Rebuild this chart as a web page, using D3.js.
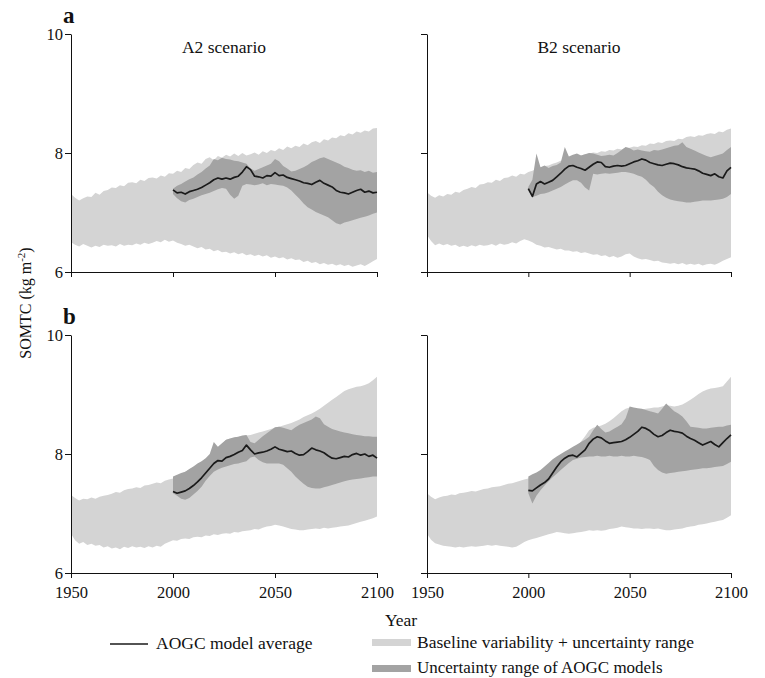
<!DOCTYPE html>
<meta charset="utf-8">
<style>
  body { margin: 0; background: #fff; }
  svg text { font-family: "Liberation Serif", "Times New Roman", serif; fill: #111; }
</style>
<script src="https://d3js.org/d3.v7.min.js"></script>
<div id="chart"></div>
<script>
// year grids (every 2 years)
var yearsAll = d3.range(1950, 2101, 2);   // 76 points, baseline band
var yearsProj = d3.range(2000, 2101, 2);  // 51 points, AOGC band + mean

// ---- a / A2 ----
var aA2LightUp = [7.31,7.25,7.20,7.24,7.27, 7.26,7.33,7.30,7.36,7.38, 7.42,7.41,7.46,7.44,7.50, 7.51,7.49,7.55,7.53,7.58,
  7.59,7.57,7.62,7.60,7.66, 7.65,7.70,7.68,7.75,7.73, 7.80,7.84,7.82,7.90,7.93, 7.88,7.95,7.92,7.97,7.94, 7.99,7.95,8.00,7.96,7.98,
  8.01,7.97,8.03,8.00,8.05, 8.03,8.08,8.05,8.11,8.08, 8.12,8.10,8.16,8.13,8.18, 8.20,8.17,8.23,8.21,8.26, 8.25,8.30,8.28,8.33,8.31,
  8.36,8.34,8.38,8.36,8.41, 8.42];
var aA2LightLo = [6.50,6.46,6.43,6.47,6.44, 6.41,6.44,6.42,6.46,6.44, 6.45,6.43,6.47,6.44,6.46, 6.45,6.48,6.46,6.49,6.47,
  6.49,6.52,6.50,6.54,6.51, 6.53,6.49,6.47,6.44,6.46, 6.43,6.40,6.42,6.38,6.39, 6.35,6.37,6.33,6.34,6.31, 6.33,6.30,6.32,6.28,6.30,
  6.27,6.29,6.26,6.28,6.24, 6.26,6.23,6.25,6.21,6.23, 6.20,6.21,6.17,6.19,6.15, 6.17,6.13,6.15,6.12,6.14, 6.11,6.13,6.10,6.12,6.09,
  6.11,6.13,6.10,6.14,6.18, 6.22];
var aA2DarkUp = [7.40,7.45,7.48,7.52,7.56, 7.59,7.64,7.68,7.74,7.79, 7.90,7.88,7.92,7.90,7.89, 7.87,7.86,7.84,7.82,7.74,
  7.70,7.73,7.76,7.79,7.82, 7.90,7.86,7.78,7.74,7.69, 7.70,7.73,7.76,7.80,7.85, 7.88,7.91,7.93,7.90,7.87, 7.84,7.81,7.77,7.75,7.72,
  7.70,7.71,7.68,7.70,7.67, 7.68];
var aA2DarkLo = [7.31,7.24,7.19,7.17,7.21, 7.23,7.26,7.29,7.31,7.33, 7.36,7.39,7.41,7.40,7.30, 7.23,7.28,7.45,7.48,7.47,
  7.46,7.47,7.49,7.46,7.48, 7.47,7.46,7.45,7.42,7.37, 7.30,7.23,7.15,7.09,7.05, 7.01,6.98,6.95,6.92,6.87, 6.82,6.80,6.83,6.85,6.87,
  6.89,6.91,6.93,6.95,6.98, 7.00];
var aA2Mean = [7.38,7.33,7.34,7.31,7.35, 7.37,7.39,7.42,7.46,7.50, 7.55,7.58,7.56,7.58,7.56, 7.59,7.61,7.68,7.77,7.72,
  7.61,7.60,7.58,7.62,7.61, 7.67,7.62,7.63,7.59,7.57, 7.55,7.53,7.50,7.49,7.47, 7.51,7.54,7.49,7.46,7.43, 7.37,7.34,7.33,7.31,7.34,
  7.37,7.39,7.34,7.36,7.33, 7.34];

// ---- a / B2 ----
var aB2LightUp = [7.34,7.28,7.25,7.29,7.27, 7.31,7.30,7.35,7.33,7.38, 7.40,7.43,7.41,7.47,7.48, 7.51,7.50,7.55,7.53,7.58,
  7.59,7.62,7.60,7.65,7.64, 7.68,7.70,7.73,7.75,7.78, 7.79,7.82,7.84,7.87,7.88, 7.91,7.92,7.95,7.96,7.98, 7.99,8.01,8.00,8.03,8.02,
  8.05,8.04,8.07,8.06,8.09, 8.09,8.11,8.10,8.13,8.12, 8.16,8.15,8.18,8.17,8.20, 8.21,8.20,8.24,8.23,8.27, 8.28,8.27,8.30,8.29,8.32,
  8.33,8.32,8.36,8.35,8.39, 8.41];
var aB2LightLo = [6.62,6.52,6.45,6.48,6.45, 6.47,6.44,6.46,6.42,6.44, 6.42,6.45,6.43,6.46,6.44, 6.45,6.47,6.44,6.48,6.46,
  6.47,6.50,6.48,6.52,6.55, 6.53,6.50,6.46,6.44,6.41, 6.42,6.40,6.38,6.39,6.36, 6.36,6.34,6.35,6.32,6.33, 6.31,6.29,6.30,6.27,6.28,
  6.25,6.27,6.24,6.26,6.30, 6.31,6.26,6.23,6.21,6.22, 6.20,6.18,6.19,6.16,6.15, 6.14,6.15,6.13,6.15,6.12, 6.14,6.12,6.14,6.11,6.13,
  6.14,6.12,6.15,6.19,6.22, 6.25];
var aB2DarkUp = [7.43,7.55,7.99,7.76,7.79, 7.75,7.78,7.80,7.84,8.10, 7.94,7.97,7.99,7.96,7.98, 8.00,7.99,7.97,7.95,7.96,
  7.97,7.96,8.00,8.05,8.10, 8.08,8.04,8.06,8.04,8.03, 8.02,8.05,8.04,8.06,8.08, 8.10,8.12,8.13,8.18,8.10, 8.07,8.04,8.01,7.98,7.95,
  7.93,7.95,7.97,7.99,8.05, 8.10];
var aB2DarkLo = [7.37,7.26,7.28,7.31,7.32, 7.34,7.37,7.40,7.43,7.47, 7.51,7.54,7.54,7.50,7.42, 7.37,7.65,7.64,7.65,7.66,
  7.65,7.66,7.67,7.68,7.68, 7.67,7.65,7.62,7.60,7.55, 7.48,7.43,7.35,7.29,7.25, 7.22,7.20,7.19,7.18,7.17, 7.17,7.18,7.19,7.20,7.20,
  7.20,7.21,7.22,7.23,7.26, 7.31];
var aB2Mean = [7.40,7.27,7.48,7.52,7.48, 7.51,7.54,7.60,7.66,7.73, 7.78,7.79,7.76,7.74,7.71, 7.76,7.81,7.85,7.84,7.77,
  7.76,7.78,7.79,7.78,7.79, 7.82,7.85,7.87,7.90,7.88, 7.84,7.82,7.80,7.79,7.81, 7.83,7.82,7.80,7.77,7.75, 7.74,7.73,7.70,7.66,7.64,
  7.62,7.65,7.60,7.58,7.70, 7.76];

// ---- b / A2 ----
var bA2LightUp = [7.31,7.26,7.22,7.25,7.24, 7.27,7.25,7.28,7.30,7.31, 7.33,7.36,7.35,7.39,7.41, 7.42,7.44,7.43,7.47,7.48,
  7.50,7.52,7.51,7.55,7.57, 7.59,7.62,7.66,7.70,7.74, 7.78,7.82,7.87,7.92,7.97, 8.03,8.10,8.17,8.24,8.26, 8.27,8.29,8.30,8.31,8.32,
  8.34,8.36,8.38,8.40,8.42, 8.44,8.46,8.48,8.50,8.52, 8.55,8.58,8.62,8.65,8.68, 8.72,8.76,8.81,8.86,8.91, 8.96,9.01,9.06,9.09,9.11,
  9.13,9.14,9.16,9.19,9.24, 9.30];
var bA2LightLo = [6.66,6.55,6.49,6.52,6.47, 6.49,6.46,6.47,6.43,6.45, 6.41,6.43,6.40,6.44,6.42, 6.45,6.43,6.44,6.42,6.45,
  6.43,6.46,6.44,6.49,6.52, 6.55,6.54,6.57,6.58,6.57, 6.60,6.61,6.60,6.63,6.62, 6.65,6.64,6.66,6.67,6.66, 6.69,6.68,6.70,6.71,6.72,
  6.74,6.73,6.76,6.78,6.79, 6.81,6.80,6.78,6.76,6.74, 6.73,6.72,6.72,6.73,6.74, 6.75,6.74,6.76,6.75,6.76, 6.77,6.78,6.79,6.80,6.82,
  6.84,6.86,6.88,6.90,6.92, 6.95];
var bA2DarkUp = [7.62,7.65,7.68,7.70,7.75, 7.79,7.84,7.88,7.93,8.00, 8.20,8.12,8.18,8.24,8.26, 8.28,8.29,8.31,8.32,8.20,
  8.18,8.24,8.30,8.35,8.40, 8.45,8.46,8.44,8.42,8.40, 8.45,8.49,8.52,8.55,8.58, 8.63,8.60,8.50,8.46,8.42, 8.40,8.38,8.36,8.35,8.33,
  8.32,8.31,8.30,8.30,8.29, 8.29];
var bA2DarkLo = [7.34,7.30,7.25,7.23,7.26, 7.32,7.38,7.45,7.55,7.63, 7.70,7.74,7.77,7.79,7.81, 7.83,7.84,7.86,7.88,7.94,
  7.96,7.90,7.86,7.84,7.84, 7.84,7.84,7.82,7.76,7.70, 7.62,7.56,7.50,7.45,7.43, 7.42,7.42,7.44,7.46,7.48, 7.50,7.52,7.54,7.56,7.57,
  7.58,7.59,7.60,7.61,7.62, 7.62];
var bA2Mean = [7.37,7.34,7.36,7.38,7.42, 7.47,7.53,7.60,7.68,7.76, 7.84,7.89,7.88,7.94,7.96, 7.99,8.03,8.06,8.15,8.07,
  8.00,8.02,8.03,8.05,8.08, 8.12,8.08,8.06,8.04,8.05, 8.01,7.98,7.99,8.04,8.10, 8.07,8.05,8.02,7.97,7.93, 7.92,7.94,7.96,7.95,7.99,
  8.01,7.98,8.00,7.96,7.98, 7.93];

// ---- b / B2 ----
var bB2LightUp = [7.34,7.28,7.24,7.27,7.29, 7.30,7.32,7.31,7.34,7.35, 7.36,7.38,7.37,7.39,7.41, 7.42,7.44,7.45,7.46,7.48,
  7.50,7.51,7.53,7.55,7.57, 7.59,7.62,7.66,7.70,7.73, 7.77,7.80,7.84,7.89,7.94, 7.99,8.04,8.12,8.21,8.30, 8.40,8.44,8.46,8.48,8.51,
  8.55,8.60,8.66,8.72,8.76, 8.78,8.76,8.74,8.75,8.76, 8.77,8.78,8.78,8.80,8.82, 8.81,8.80,8.81,8.83,8.87, 8.91,8.96,9.01,9.05,9.08,
  9.10,9.11,9.12,9.14,9.22, 9.30];
var bB2LightLo = [6.66,6.56,6.50,6.48,6.46, 6.45,6.44,6.43,6.44,6.43, 6.44,6.45,6.44,6.45,6.46, 6.47,6.46,6.47,6.46,6.45,
  6.44,6.43,6.44,6.48,6.52, 6.55,6.57,6.59,6.61,6.63, 6.65,6.67,6.69,6.68,6.67, 6.66,6.67,6.68,6.69,6.70, 6.72,6.71,6.72,6.71,6.72,
  6.74,6.75,6.76,6.78,6.77, 6.76,6.75,6.75,6.74,6.75, 6.75,6.74,6.75,6.73,6.72, 6.72,6.73,6.74,6.75,6.77, 6.78,6.79,6.81,6.82,6.83,
  6.85,6.86,6.88,6.89,6.93, 6.97];
var bB2DarkUp = [7.62,7.66,7.69,7.73,7.79, 7.85,7.91,7.96,8.00,8.04, 8.08,8.12,8.16,8.20,8.24, 8.29,8.40,8.49,8.42,8.36,
  8.38,8.42,8.46,8.50,8.60, 8.80,8.78,8.77,8.76,8.74, 8.72,8.70,8.68,8.76,8.85, 8.78,8.72,8.68,8.63,8.55, 8.46,8.45,8.44,8.43,8.43,
  8.44,8.45,8.46,8.46,8.48, 8.49];
var bB2DarkLo = [7.34,7.17,7.30,7.39,7.47, 7.54,7.61,7.67,7.73,7.79, 7.85,7.90,7.92,7.94,7.95, 7.96,7.96,7.97,7.96,7.96,
  7.97,7.96,7.96,7.97,7.96, 7.96,7.97,7.96,7.95,7.93, 7.90,7.80,7.73,7.69,7.67, 7.68,7.69,7.70,7.71,7.72, 7.73,7.74,7.75,7.76,7.76,
  7.77,7.78,7.79,7.80,7.83, 7.87];
var bB2Mean = [7.39,7.38,7.43,7.48,7.52, 7.58,7.68,7.78,7.87,7.93, 7.97,7.98,7.95,8.01,8.07, 8.18,8.25,8.29,8.27,8.22,
  8.18,8.19,8.20,8.21,8.24, 8.28,8.33,8.38,8.45,8.43, 8.39,8.33,8.29,8.31,8.36, 8.40,8.38,8.37,8.35,8.30, 8.26,8.23,8.19,8.15,8.18,
  8.21,8.16,8.12,8.19,8.26, 8.32];

var yTicks = [6, 8, 10];
var xTicks = [1950, 2000, 2050, 2100];

var panels = [
  {letter: "a", title: "A2 scenario", col: 0, row: 0, lu: aA2LightUp, ll: aA2LightLo, du: aA2DarkUp, dl: aA2DarkLo, mean: aA2Mean},
  {letter: null, title: "B2 scenario", col: 1, row: 0, lu: aB2LightUp, ll: aB2LightLo, du: aB2DarkUp, dl: aB2DarkLo, mean: aB2Mean},
  {letter: "b", title: null, col: 0, row: 1, lu: bA2LightUp, ll: bA2LightLo, du: bA2DarkUp, dl: bA2DarkLo, mean: bA2Mean},
  {letter: null, title: null, col: 1, row: 1, lu: bB2LightUp, ll: bB2LightLo, du: bB2DarkUp, dl: bB2DarkLo, mean: bB2Mean}
];

var colRange = [[71, 377], [427, 731]];
var rowRange = [[272, 34], [573, 335]];
var lightCol = "#d4d4d4", darkCol = "#a3a3a3", lineCol = "#1a1a1a";
var serif = '"Liberation Serif", "Times New Roman", serif';

var svg = d3.select("#chart").append("svg")
  .attr("width", 765).attr("height", 678)
  .attr("font-family", serif);

panels.forEach(function (p) {
  var x = d3.scaleLinear().domain([1950, 2100]).range(colRange[p.col]);
  var y = d3.scaleLinear().domain([6, 10]).range(rowRange[p.row]);
  var g = svg.append("g");

  var light = yearsAll.map(function (yr, i) { return {yr: yr, lo: p.ll[i], hi: p.lu[i]}; });
  var dark = yearsProj.map(function (yr, i) { return {yr: yr, lo: p.dl[i], hi: p.du[i], m: p.mean[i]}; });

  var area = d3.area()
    .x(function (d) { return x(d.yr); })
    .y0(function (d) { return y(d.lo); })
    .y1(function (d) { return y(d.hi); });

  g.append("path").datum(light).attr("d", area).attr("fill", lightCol);
  g.append("path").datum(dark).attr("d", area).attr("fill", darkCol);
  g.append("path").datum(dark)
    .attr("d", d3.line().x(function (d) { return x(d.yr); }).y(function (d) { return y(d.m); }))
    .attr("fill", "none").attr("stroke", lineCol).attr("stroke-width", 1.7).attr("stroke-linejoin", "round");

  // axes
  var ya = g.append("g").attr("transform", "translate(" + colRange[p.col][0] + ",0)")
    .call(d3.axisLeft(y).tickValues(yTicks).tickFormat(d3.format("d"))
      .tickSize(6).tickSizeOuter(0).tickPadding(2));
  var xa = g.append("g").attr("transform", "translate(0," + y(6) + ")")
    .call(d3.axisBottom(x).tickValues(xTicks).tickFormat(d3.format("d"))
      .tickSize(5).tickSizeOuter(0).tickPadding(8));
  [ya, xa].forEach(function (a) {
    a.attr("font-family", serif).attr("font-size", 16.5);
    a.select(".domain").attr("stroke", "#111");
    a.selectAll(".tick line").attr("stroke", "#111");
    a.selectAll("text").attr("fill", "#111");
  });
  if (p.col === 1) ya.selectAll("text").remove();
  if (p.row === 0) xa.selectAll("text").remove();

  if (p.title) {
    g.append("text").attr("x", (colRange[p.col][0] + colRange[p.col][1]) / 2).attr("y", 53)
      .attr("text-anchor", "middle").style("font-size", "17.5px").text(p.title);
  }
  if (p.letter) {
    g.append("text").attr("x", 63).attr("y", rowRange[p.row][1] - 11)
      .style("font-size", "23px").style("font-weight", "bold").text(p.letter);
  }
});

// y axis label
var yl = svg.append("text").attr("transform", "translate(31,303) rotate(-90)")
  .attr("text-anchor", "middle").style("font-size", "16px");
yl.append("tspan").text("SOMTC (kg m");
yl.append("tspan").attr("dy", -6).style("font-size", "11px").text("-2");
yl.append("tspan").attr("dy", 6).text(")");

svg.append("text").attr("x", 401).attr("y", 626).attr("text-anchor", "middle")
  .style("font-size", "17.5px").text("Year");

// legend
var leg = svg.append("g");
leg.append("line").attr("x1", 110).attr("x2", 148).attr("y1", 644).attr("y2", 644)
  .attr("stroke", lineCol).attr("stroke-width", 1.6);
leg.append("text").attr("x", 156).attr("y", 649).style("font-size", "17.5px").text("AOGC model average");
leg.append("rect").attr("x", 372).attr("y", 639).attr("width", 39).attr("height", 7).attr("fill", lightCol);
leg.append("text").attr("x", 417).attr("y", 648).style("font-size", "17.5px").text("Baseline variability + uncertainty range");
leg.append("rect").attr("x", 372).attr("y", 665).attr("width", 39).attr("height", 7).attr("fill", darkCol);
leg.append("text").attr("x", 417).attr("y", 673).style("font-size", "17px").text("Uncertainty range of AOGC models");
</script>
